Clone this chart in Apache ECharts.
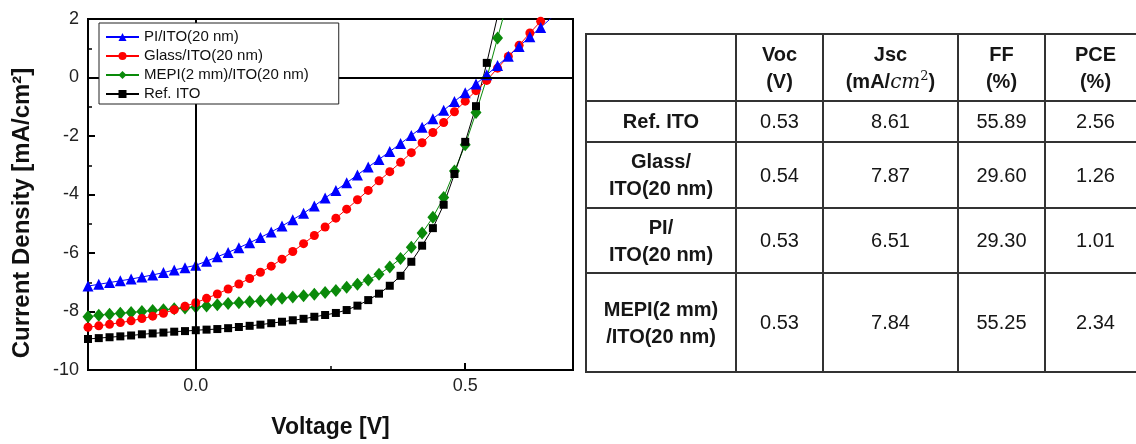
<!DOCTYPE html>
<html>
<head>
<meta charset="utf-8">
<script src="https://cdn.jsdelivr.net/npm/echarts@6/dist/echarts.min.js"></script>
<style>
  html, body { margin: 0; padding: 0; background: #fff; overflow: hidden; }
  #main { position: absolute; left: 0; top: 0; width: 1136px; height: 444px; }
  #tbl {
    position: absolute; left: 585px; top: 33px; width: 560px;
    border-collapse: collapse; table-layout: fixed;
    font-family: "Liberation Sans", Arial, sans-serif; color: #161616;
  }
  #tbl td { border: 2px solid #333; text-align: center; vertical-align: middle; padding: 0; font-size: 20px; line-height: 27px; }
  #tbl tr.head td, #tbl td.lab { font-weight: bold; }
  #tbl i { font-family: "DejaVu Serif", serif; font-weight: normal; }
  #tbl sup { font-size: 13px; line-height: 0; font-weight: normal; font-family: "DejaVu Serif", serif; }
</style>
</head>
<body>
<div id="main"></div>
<table id="tbl">
  <colgroup><col style="width:150px"><col style="width:87px"><col style="width:135px"><col style="width:87px"><col style="width:101px"></colgroup>
  <tbody id="tbody"></tbody>
</table>
<script>
  // 电压 (V)
  var voltage = [-0.20, -0.18, -0.16, -0.14, -0.12, -0.10, -0.08, -0.06, -0.04, -0.02,
    0.00, 0.02, 0.04, 0.06, 0.08, 0.10, 0.12, 0.14, 0.16, 0.18,
    0.20, 0.22, 0.24, 0.26, 0.28, 0.30, 0.32, 0.34, 0.36, 0.38,
    0.40, 0.42, 0.44, 0.46, 0.48, 0.50, 0.52, 0.54, 0.56, 0.58,
    0.60, 0.62, 0.64, 0.66, 0.68];
  // 电流密度 (mA/cm2)
  var jPI = [-7.13, -7.07, -7.01, -6.95, -6.89, -6.82, -6.75, -6.67, -6.58, -6.50,
    -6.42, -6.28, -6.13, -5.98, -5.82, -5.65, -5.47, -5.28, -5.08, -4.86,
    -4.64, -4.39, -4.12, -3.86, -3.60, -3.33, -3.06, -2.80, -2.53, -2.26,
    -1.98, -1.70, -1.41, -1.12, -0.82, -0.52, -0.22, 0.09, 0.41, 0.73,
    1.06, 1.39, 1.71, 2.04, 2.36];
  var jGlass = [-8.54, -8.49, -8.44, -8.38, -8.32, -8.24, -8.16, -8.06, -7.94, -7.82,
    -7.70, -7.55, -7.40, -7.23, -7.06, -6.87, -6.66, -6.45, -6.21, -5.95,
    -5.68, -5.40, -5.11, -4.81, -4.50, -4.18, -3.86, -3.53, -3.22, -2.90,
    -2.57, -2.23, -1.88, -1.54, -1.17, -0.81, -0.45, -0.10, 0.32, 0.72,
    1.10, 1.52, 1.92, 2.30];
  var jMEPI = [-8.18, -8.13, -8.09, -8.06, -8.03, -8.00, -7.97, -7.94, -7.91, -7.88,
    -7.85, -7.81, -7.77, -7.73, -7.70, -7.67, -7.64, -7.60, -7.55, -7.50,
    -7.46, -7.41, -7.35, -7.28, -7.17, -7.07, -6.92, -6.73, -6.48, -6.19,
    -5.80, -5.32, -4.78, -4.10, -3.20, -2.30, -1.20, -0.02, 1.35, 2.70];
  var jRef = [-8.94, -8.91, -8.88, -8.85, -8.82, -8.78, -8.75, -8.72, -8.69, -8.67,
    -8.64, -8.62, -8.60, -8.57, -8.53, -8.49, -8.45, -8.40, -8.35, -8.30,
    -8.25, -8.18, -8.12, -8.05, -7.95, -7.80, -7.61, -7.39, -7.12, -6.78,
    -6.30, -5.75, -5.15, -4.35, -3.30, -2.20, -0.98, 0.50, 2.10];

  var names = ['PI/ITO(20 nm)', 'Glass/ITO(20 nm)', 'MEPI(2 mm)/ITO(20 nm)', 'Ref. ITO'];
  var xTicks = [0, 0.5];
  var xMinorTicks = [0.25];

  // 表格数据
  var tblHead = ['', 'Voc<br>(V)', 'Jsc<br>(mA/<i>cm</i><sup>2</sup>)', 'FF<br>(%)', 'PCE<br>(%)'];
  var tblRows = ['Ref. ITO', 'Glass/<br>ITO(20 nm)', 'PI/<br>ITO(20 nm)', 'MEPI(2 mm)<br>/ITO(20 nm)'];
  var voc = ['0.53', '0.54', '0.53', '0.53'];
  var jsc = ['8.61', '7.87', '6.51', '7.84'];
  var ff = ['55.89', '29.60', '29.30', '55.25'];
  var pce = ['2.56', '1.26', '1.01', '2.34'];
  var rowH = [67, 41, 66, 65, 99];

  var html = '<tr class="head" style="height:' + rowH[0] + 'px">';
  tblHead.forEach(function (h) { html += '<td>' + h + '</td>'; });
  html += '</tr>';
  tblRows.forEach(function (r, i) {
    html += '<tr style="height:' + rowH[i + 1] + 'px"><td class="lab">' + r + '</td><td>' + voc[i] +
      '</td><td>' + jsc[i] + '</td><td>' + ff[i] + '</td><td>' + pce[i] + '</td></tr>';
  });
  document.getElementById('tbody').innerHTML = html;

  function pairs(arr) {
    return arr.map(function (j, i) { return [voltage[i], j]; });
  }

  var font = '"Liberation Sans", Arial, sans-serif';
  var myChart = echarts.init(document.getElementById('main'));

  function lineSeries(name, arr, color, symbol, size) {
    return {
      name: name,
      type: 'line',
      data: pairs(arr),
      symbol: symbol,
      symbolSize: size,
      showAllSymbol: true,
      clip: true,
      lineStyle: { color: color, width: 1 },
      itemStyle: { color: color },
      emphasis: { disabled: true }
    };
  }

  var sMEPI = lineSeries(names[2], jMEPI, '#0a8a0a', 'diamond', [11, 13]);
  var sRef = lineSeries(names[3], jRef, '#000000', 'rect', 8);
  var sGlass = lineSeries(names[1], jGlass, '#ff0000', 'circle', 9);
  var sPI = lineSeries(names[0], jPI, '#0000ff', 'triangle', 11);
  // 零线
  sMEPI.markLine = {
    silent: true,
    symbol: ['none', 'none'],
    label: { show: false },
    lineStyle: { color: '#000', width: 2, type: 'solid' },
    data: [{ xAxis: 0 }, { yAxis: 0 }]
  };

  var option = {
    animation: false,
    grid: { left: 88, right: 563, top: 19, bottom: 71, show: true, borderColor: '#000', borderWidth: 2 },
    legend: {
      data: names,
      orient: 'vertical',
      left: 99,
      top: 23,
      z: 20,
      itemWidth: 33,
      itemHeight: 10,
      itemGap: 3,
      padding: [6, 30, 2, 6],
      borderColor: '#222',
      borderWidth: 1,
      backgroundColor: '#fff',
      textStyle: { fontFamily: font, fontSize: 15, lineHeight: 16, color: '#111' }
    },
    xAxis: [{
      type: 'value',
      min: -0.2,
      max: 0.7,
      axisLine: { show: true, onZero: false, lineStyle: { color: '#000', width: 2 } },
      axisTick: { inside: true, length: 7, customValues: xTicks, lineStyle: { color: '#000', width: 2 } },
      axisLabel: { customValues: xTicks, formatter: function (v) { return v.toFixed(1); },
        fontFamily: font, fontSize: 18, color: '#222', margin: 7 },
      splitLine: { show: false },
      name: 'Voltage [V]',
      nameLocation: 'middle',
      nameGap: 46,
      nameTextStyle: { fontFamily: font, fontSize: 23, fontWeight: 'bold', color: '#111' }
    }, {
      type: 'value',
      min: -0.2,
      max: 0.7,
      position: 'bottom',
      axisLine: { show: false, onZero: false },
      axisTick: { inside: true, length: 4, customValues: xMinorTicks, lineStyle: { color: '#000', width: 1.5 } },
      axisLabel: { show: false },
      splitLine: { show: false }
    }],
    yAxis: {
      type: 'value',
      min: -10,
      max: 2,
      interval: 2,
      axisLine: { show: true, onZero: false, lineStyle: { color: '#000', width: 2 } },
      axisTick: { inside: true, length: 7, lineStyle: { color: '#000', width: 2 } },
      minorTick: { show: true, splitNumber: 2, length: 4, lineStyle: { color: '#000', width: 1.5 } },
      axisLabel: { fontFamily: font, fontSize: 18, color: '#222', margin: 9 },
      splitLine: { show: false }
    },
    graphic: [{
      type: 'text',
      x: 22,
      y: 213,
      rotation: Math.PI / 2,
      style: {
        text: 'Current Density [mA/cm²]',
        font: 'bold 24px "Liberation Sans", Arial, sans-serif',
        fill: '#111',
        align: 'center',
        verticalAlign: 'middle'
      }
    }],
    series: [sMEPI, sRef, sGlass, sPI]
  };

  myChart.setOption(option);
</script>
</body>
</html>
